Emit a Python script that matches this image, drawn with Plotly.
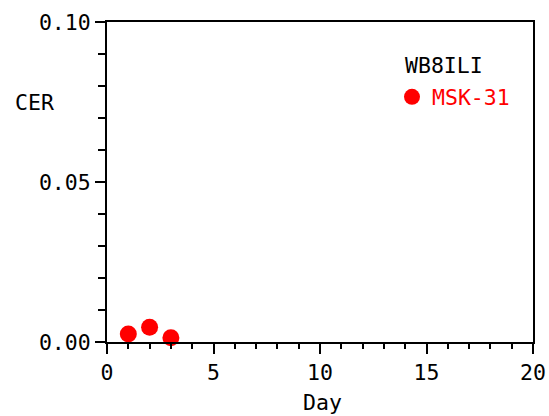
import plotly.graph_objects as go

days = [1, 2, 3]
cer = [0.0025, 0.0046, 0.0013]
series_name = "MSK-31"
legend_title = "WB8ILI"
x_ticks = [0, 5, 10, 15, 20]
y_ticks = [0.0, 0.05, 0.10]
y_tick_text = ["0.00", "0.05", "0.10"]

FONT = "DejaVu Sans Mono"
FS = 21.5
W, H = 549, 416

fig = go.Figure()
fig.add_trace(go.Scatter(
    x=days, y=cer, mode="markers", name=series_name,
    marker=dict(color="#ff0000", size=17, line=dict(width=0)),
    cliponaxis=False,
))

fig.update_layout(
    width=W, height=H,
    margin=dict(l=107, r=16, t=22, b=74, autoexpand=False),
    paper_bgcolor="white", plot_bgcolor="white",
    font=dict(family=FONT, size=FS, color="black"),
    showlegend=True,
    legend=dict(
        x=0.669, y=0.766, xanchor="left", yanchor="middle",
        bgcolor="rgba(0,0,0,0)",
        font=dict(family=FONT, size=FS, color="#ff0000"),
        itemsizing="trace",
    ),
    xaxis=dict(
        range=[0, 20], tickvals=x_ticks, ticks="outside", ticklen=10, tickwidth=2,
        tickcolor="black", showline=True, linewidth=2, linecolor="black",
        mirror=True, showgrid=False, zeroline=False,
        minor=dict(dtick=1, ticks="outside", ticklen=5, tickwidth=2, tickcolor="black", showgrid=False),
        tickfont=dict(family=FONT, size=FS),
    ),
    yaxis=dict(
        range=[0, 0.1], tickvals=y_ticks, ticktext=y_tick_text, ticks="outside", ticklen=10,
        tickwidth=2, tickcolor="black", showline=True, linewidth=2, linecolor="black",
        mirror=True, showgrid=False, zeroline=False,
        minor=dict(dtick=0.01, ticks="outside", ticklen=7, tickwidth=2, tickcolor="black", showgrid=False),
        tickfont=dict(family=FONT, size=FS),
    ),
    annotations=[
        dict(text="CER", xref="paper", yref="paper", x=-0.171, y=0.747,
             xanchor="center", yanchor="middle", showarrow=False,
             font=dict(family=FONT, size=FS, color="black")),
        dict(text="Day", xref="paper", yref="paper", x=0.505, y=-0.19,
             xanchor="center", yanchor="middle", showarrow=False,
             font=dict(family=FONT, size=FS, color="black")),
        dict(text=legend_title, xref="paper", yref="paper", x=0.695, y=0.8625,
             xanchor="left", yanchor="middle", showarrow=False,
             font=dict(family=FONT, size=FS, color="black")),
    ],
)

fig.write_html(
    "out.html",
    config={"displayModeBar": False},
    post_script="document.body.style.margin='0';document.body.style.overflow='hidden';",
)
